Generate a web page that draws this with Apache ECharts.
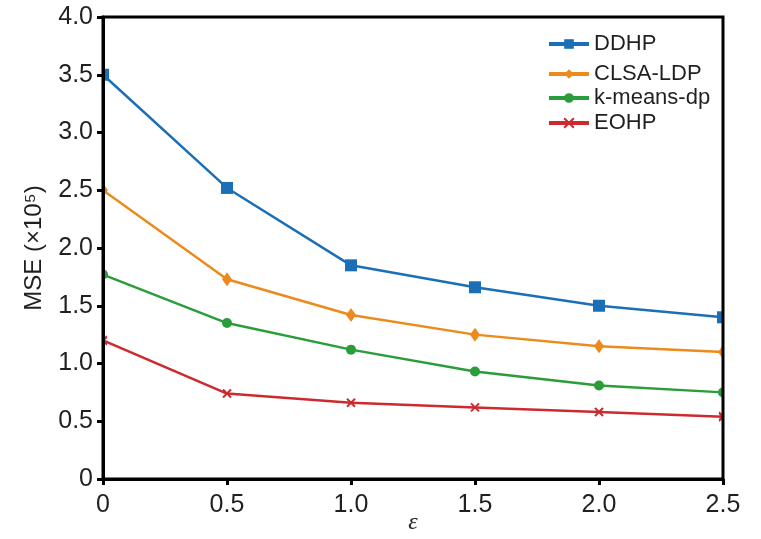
<!DOCTYPE html>
<html><head><meta charset="utf-8">
<script src="https://cdn.jsdelivr.net/npm/echarts@6/dist/echarts.min.js"></script>
<style>html,body{margin:0;padding:0;background:#fff}#c{width:761px;height:539px}</style>
</head><body><div id="c"></div>
<script>
var epsilon = [0, 0.5, 1.0, 1.5, 2.0, 2.5];
var seriesNames = ['DDHP', 'CLSA-LDP', 'k-means-dp', 'EOHP'];
var ddhp = [3.50, 2.52, 1.85, 1.66, 1.50, 1.40];
var clsa = [2.50, 1.73, 1.42, 1.25, 1.15, 1.10];
var kmeans = [1.77, 1.35, 1.12, 0.93, 0.81, 0.75];
var eohp = [1.20, 0.74, 0.66, 0.62, 0.58, 0.54];
var yTicks = [0, 0.5, 1.0, 1.5, 2.0, 2.5, 3.0, 3.5, 4.0];
var xTicks = [0, 0.5, 1.0, 1.5, 2.0, 2.5];

var colors = ['#1a6fb6', '#ec8a1c', '#2a9d3a', '#cc2a2f'];
var symbols = ['rect', 'path://M0,-1 L0.35,0 L0,1 L-0.35,0 Z', 'circle', 'path://M-1,-1 L1,1 M1,-1 L-1,1'];
var symbolSizes = [[12, 12], [10, 14], [10, 10], [8, 8]];
// half-shapes for the points sitting on the plot edges (clipped by the frame)
var halfRight = ['path://M0,-1 L1,-1 L1,1 L0,1 Z', 'path://M0,-1 L0.35,0 L0,1 Z', 'path://M0,-1 A1,1 0 0 1 0,1 Z', 'path://M0,0 L1,-1 M0,0 L1,1'];
var halfLeft = ['path://M0,-1 L-1,-1 L-1,1 L0,1 Z', 'path://M0,-1 L-0.35,0 L0,1 Z', 'path://M0,-1 A1,1 0 0 0 0,1 Z', 'path://M0,0 L-1,-1 M0,0 L-1,1'];
var dataArr = [ddhp, clsa, kmeans, eohp];

function fmt(v){ return v === 0 ? '0' : v.toFixed(1); }

var chart = echarts.init(document.getElementById('c'));
var series = seriesNames.map(function(n, i){
  var sz = symbolSizes[i];
  var halfSz = [sz[0] / 2, sz[1]];
  return {
    name: n, type: 'line',
    data: epsilon.map(function(x, j){
      var item = {value: [x, dataArr[i][j]]};
      if (j === 0) { item.symbol = halfRight[i]; item.symbolSize = halfSz; item.symbolOffset = [sz[0] / 4, 0]; }
      if (j === epsilon.length - 1) { item.symbol = halfLeft[i]; item.symbolSize = halfSz; item.symbolOffset = [-sz[0] / 4, 0]; }
      return item;
    }),
    symbol: symbols[i], symbolSize: sz,
    showAllSymbol: true,
    lineStyle: {color: colors[i], width: 2.5},
    itemStyle: {color: colors[i], borderColor: colors[i], borderWidth: i === 3 ? 2 : 0},
    clip: false,
    z: 3 + i
  };
});
var legendTops = [33, 63, 87, 112];
var legends = seriesNames.map(function(n, i){
  return {
    data: [n], left: 547, top: legendTops[i], orient: 'vertical', padding: 0,
    itemWidth: 40, itemHeight: 12, itemGap: 4,
    textStyle: {fontFamily: 'Liberation Sans', fontSize: 22, color: '#231f20'},
    lineStyle: {width: 4}
  };
});
chart.setOption({
  animation: false,
  color: colors,
  grid: {left: 103, right: 38, top: 17, bottom: 60, outerBoundsMode: 'none', containLabel: false, show: true, borderColor: '#000', borderWidth: 3, backgroundColor: 'transparent', z: 10},
  legend: legends,
  xAxis: {
    type: 'value', min: 0, max: 2.5, interval: 0.5,
    name: 'ε', nameLocation: 'middle', nameGap: 32, nameMoveOverlap: false,
    nameTextStyle: {fontFamily: 'Liberation Serif', fontStyle: 'italic', fontSize: 24, color: '#231f20'},
    axisLine: {lineStyle: {color: '#000', width: 3}},
    axisTick: {inside: false, length: 6, lineStyle: {color: '#000', width: 3}},
    axisLabel: {formatter: fmt, fontFamily: 'Liberation Sans', fontSize: 25, color: '#231f20', margin: 14},
    splitLine: {show: false},
    z: 10
  },
  yAxis: {
    type: 'value', min: 0, max: 4, interval: 0.5,
    name: 'MSE (×10⁵)', nameLocation: 'middle', nameGap: 57, nameRotate: 90, nameMoveOverlap: false,
    nameTextStyle: {fontFamily: 'Liberation Sans', fontSize: 24, color: '#231f20'},
    axisLine: {lineStyle: {color: '#000', width: 3}},
    axisTick: {inside: false, length: 6, lineStyle: {color: '#000', width: 3}},
    axisLabel: {formatter: fmt, fontFamily: 'Liberation Sans', fontSize: 25, color: '#231f20', margin: 10},
    splitLine: {show: false},
    z: 10
  },
  series: series
});
</script></body></html>
